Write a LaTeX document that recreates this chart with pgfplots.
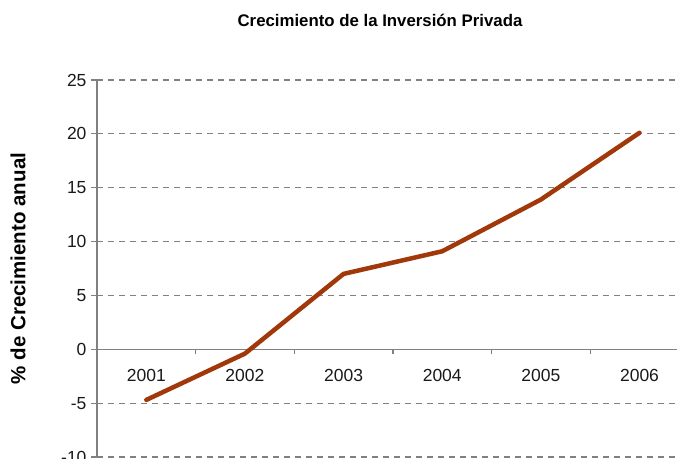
\documentclass[border=0pt]{standalone}
\usepackage{pgfplots}
\pgfplotsset{compat=1.18}
\usepackage{fontspec}
\setmainfont{Liberation Sans}
\definecolor{linec}{RGB}{160,56,10}
\definecolor{gridc}{RGB}{128,128,128}
\definecolor{txt}{RGB}{25,25,25}
\begin{document}
\begin{tikzpicture}
\begin{axis}[
  scale only axis, width=580pt, height=377pt,
  xmin=0.5, xmax=6.38, ymin=-10, ymax=25,
  axis x line=middle, axis y line=left,
  hide obscured x ticks=false, hide obscured y ticks=false,
  axis line style={-, draw=gridc, line width=1.2pt},
  tick align=outside,
  xtick={1,2,3,4,5,6},
  xticklabels={2001,2002,2003,2004,2005,2006},
  major x tick style={draw=none},
  minor xtick={1.5,2.5,3.5,4.5,5.5},
  minor tick length=5pt,
  minor x tick style={draw=gridc, line width=1.2pt},
  ytick={-10,-5,0,5,10,15,20,25},
  yticklabels={-10,-5,0,5,10,15,20,25},
  major tick length=6pt,
  y tick style={draw=gridc, line width=1.2pt},
  ymajorgrids,
  grid style={draw=gridc, line width=1.2pt, dash pattern=on 6pt off 5pt},
  tick label style={font=\fontsize{17.5}{20}\selectfont, text=txt},
  yticklabel style={xshift=-1pt},
  xticklabel style={anchor=center, yshift=-20pt},
  title={Crecimiento de la Inversión Privada},
  title style={at={(axis description cs:0.5,1)}, anchor=center, yshift=54pt, xshift=-7pt, font=\bfseries\fontsize{16.8}{20}\selectfont, text=black},
  ylabel={\% de Crecimiento anual},
  ylabel style={at={(axis description cs:-0.1362,0.5)}, anchor=center, font=\bfseries\fontsize{20.5}{24}\selectfont, text=black},
]
\addplot[linec, line width=4.5pt, line cap=round, line join=miter, no markers] coordinates {
  (1,-4.7) (2,-0.4) (3,7.0) (4,9.1) (5,13.9) (6,20.1)
};
\coordinate (bl) at (rel axis cs:0,0);
\coordinate (tr) at (rel axis cs:1,1);
\end{axis}
\pgfresetboundingbox
\path[use as bounding box] ([shift={(-97pt,-2pt)}]bl) rectangle ([shift={(2pt,80pt)}]tr);
\end{tikzpicture}
\end{document}
